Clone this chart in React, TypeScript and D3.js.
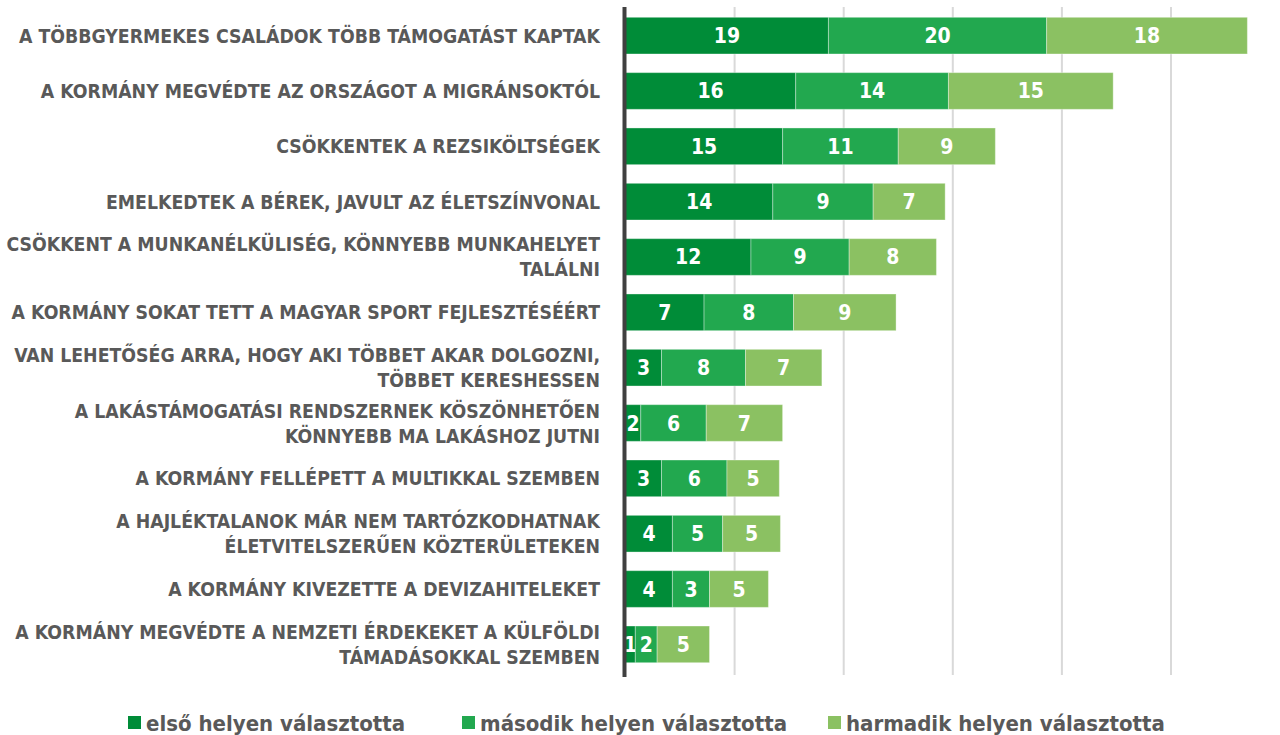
import React from "react";
import * as d3 from "d3";

const categories: string[][] = [
  ["A TÖBBGYERMEKES CSALÁDOK TÖBB TÁMOGATÁST KAPTAK"],
  ["A KORMÁNY MEGVÉDTE AZ ORSZÁGOT A MIGRÁNSOKTÓL"],
  ["CSÖKKENTEK A REZSIKÖLTSÉGEK"],
  ["EMELKEDTEK A BÉREK, JAVULT AZ ÉLETSZÍNVONAL"],
  ["CSÖKKENT A MUNKANÉLKÜLISÉG, KÖNNYEBB MUNKAHELYET", "TALÁLNI"],
  ["A KORMÁNY SOKAT TETT A MAGYAR SPORT FEJLESZTÉSÉÉRT"],
  ["VAN LEHETŐSÉG ARRA, HOGY AKI TÖBBET AKAR DOLGOZNI,", "TÖBBET KERESHESSEN"],
  ["A LAKÁSTÁMOGATÁSI RENDSZERNEK KÖSZÖNHETŐEN", "KÖNNYEBB MA LAKÁSHOZ JUTNI "],
  ["A KORMÁNY FELLÉPETT A MULTIKKAL SZEMBEN"],
  ["A HAJLÉKTALANOK MÁR NEM TARTÓZKODHATNAK", "ÉLETVITELSZERŰEN KÖZTERÜLETEKEN"],
  ["A KORMÁNY KIVEZETTE A DEVIZAHITELEKET"],
  ["A KORMÁNY MEGVÉDTE A NEMZETI ÉRDEKEKET A KÜLFÖLDI", "TÁMADÁSOKKAL SZEMBEN"],
];

const seriesNames = ["első helyen választotta", "második helyen választotta", "harmadik helyen választotta"];

// bar lengths
const first = [18.6, 15.6, 14.4, 13.5, 11.5, 7.2, 3.3, 1.4, 3.3, 4.3, 4.3, 0.9];
const second = [20.0, 14.0, 10.6, 9.2, 9.0, 8.2, 7.7, 6.0, 6.0, 4.6, 3.4, 2.0];
const third = [18.4, 15.1, 8.9, 6.6, 8.0, 9.4, 7.0, 7.0, 4.8, 5.3, 5.4, 4.8];

// printed labels
const firstLabels = [19, 16, 15, 14, 12, 7, 3, 2, 3, 4, 4, 1];
const secondLabels = [20, 14, 11, 9, 9, 8, 8, 6, 6, 5, 3, 2];
const thirdLabels = [18, 15, 9, 7, 8, 9, 7, 7, 5, 5, 5, 5];

const xTicks = [10, 20, 30, 40, 50];
const colors = ["#008C38", "#22A84F", "#8BC162"];

const FONT = "'DejaVu Sans Condensed', 'DejaVu Sans', sans-serif";

export default function App() {
  const W = 1280, H = 735;
  const x = d3.scaleLinear().domain([0, 50]).range([625.5, 1171]);
  const y = d3.scaleBand<number>().domain(d3.range(categories.length)).range([8, 672]).paddingInner(0.337).paddingOuter(0.168);
  const values = [first, second, third];
  const labels = [firstLabels, secondLabels, thirdLabels];
  const rows = categories.map((_, i) => {
    let acc = 0;
    return values.map((s, k) => {
      const x0 = acc;
      acc += s[i];
      return { x0, x1: acc, k, label: labels[k][i] };
    });
  });
  const legendX = [128, 462, 828];
  return (
    <svg width={W} height={H} style={{ position: "absolute", left: 0, top: 0, background: "#fff" }} fontFamily={FONT}>
      {xTicks.map((t) => (
        <line key={t} x1={x(t)} x2={x(t)} y1={7} y2={675} stroke="#d9d9d9" strokeWidth={2} />
      ))}
      {rows.map((segs, i) =>
        segs.map((s) => {
          const y0 = y(i)!;
          const bw = y.bandwidth();
          return (
            <g key={i + "-" + s.k}>
              <rect x={x(s.x0)} y={y0} width={x(s.x1) - x(s.x0)} height={bw} fill={colors[s.k]} stroke="#ffffff" strokeOpacity={0.35} strokeWidth={1} />
              <text x={(x(s.x0) + x(s.x1)) / 2} y={y0 + bw / 2 + 7.5} textAnchor="middle" fill="#fff" fontSize={21} fontWeight="bold">
                {s.label}
              </text>
            </g>
          );
        })
      )}
      <line x1={624.5} x2={624.5} y1={7} y2={677} stroke="#404040" strokeWidth={4} />
      {categories.map((lines, i) => {
        const cy = y(i)! + y.bandwidth() / 2;
        const start = cy + 7 - ((lines.length - 1) * 25) / 2;
        return (
          <text key={i} textAnchor="end" fill="#595959" fontSize={19.3} fontWeight="bold">
            {lines.map((l, j) => (
              <tspan key={j} x={600} y={start + j * 25}>
                {l}
              </tspan>
            ))}
          </text>
        );
      })}
      {seriesNames.map((n, k) => (
        <g key={n}>
          <rect x={legendX[k]} y={716} width={13} height={13} fill={colors[k]} />
          <text x={legendX[k] + 18} y={731} fill="#595959" fontSize={22} fontWeight="bold">
            {n}
          </text>
        </g>
      ))}
    </svg>
  );
}
